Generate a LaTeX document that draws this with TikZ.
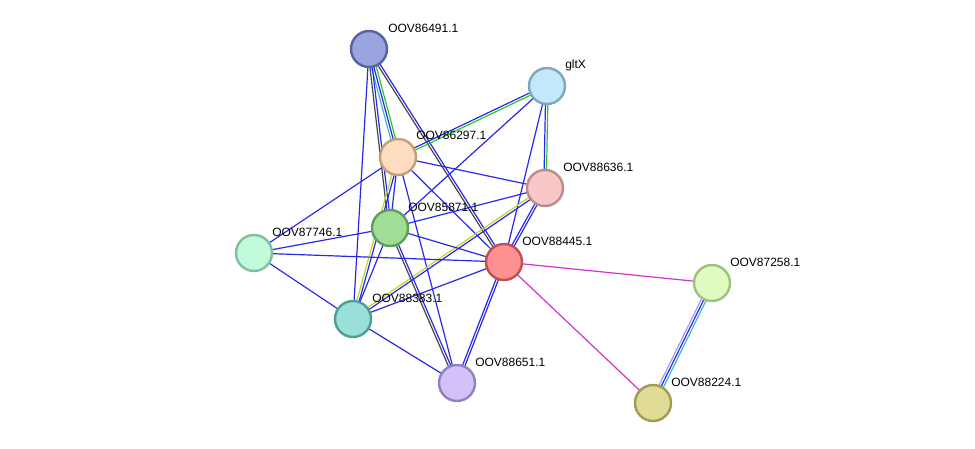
\documentclass[tikz,border=0pt]{standalone}
\usepackage{fontspec}
\setmainfont{Liberation Sans}
\usetikzlibrary{calc,backgrounds}
\definecolor{cooc}{RGB}{40,40,235}
\definecolor{coex}{RGB}{70,70,70}
\definecolor{dbase}{RGB}{60,180,220}
\definecolor{neigh}{RGB}{40,200,40}
\definecolor{tmine}{RGB}{190,215,40}
\definecolor{exper}{RGB}{210,50,210}
\definecolor{homol}{RGB}{165,155,240}
\tikzset{
  prot/.style={circle, line width=1.8pt, minimum size=27pt, inner sep=0pt},
  lbl/.style={anchor=west, inner sep=0pt, font=\fontsize{9}{10}\selectfont},
  edge/.style={line width=0.9pt}
}
% one line of an edge, shifted sideways by #4
\newcommand{\lnk}[4]{\draw[edge,#1] ($(#2.center)!#4!90:(#3.center)$) -- ($(#3.center)!#4!-90:(#2.center)$);}

\begin{document}
\begin{tikzpicture}[x=0.75pt, y=-0.75pt]
\useasboundingbox (0,0) rectangle (975,449);
% ---- proteins
\node[prot, fill={rgb,255:red,154;green,165;blue,224}, draw={rgb,255:red,88;green,98;blue,158}] (n86491) at (369,49) {};
\node[prot, fill={rgb,255:red,194;green,232;blue,250}, draw={rgb,255:red,128;green,166;blue,190}] (gltx) at (547,86) {};
\node[prot, fill={rgb,255:red,253;green,220;blue,192}, draw={rgb,255:red,192;green,160;blue,128}] (n86297) at (398,157) {};
\node[prot, fill={rgb,255:red,248;green,200;blue,200}, draw={rgb,255:red,190;green,140;blue,140}] (n88636) at (545,188) {};
\node[prot, fill={rgb,255:red,160;green,222;blue,152}, draw={rgb,255:red,94;green,158;blue,88}] (n85871) at (390,228) {};
\node[prot, fill={rgb,255:red,194;green,250;blue,220}, draw={rgb,255:red,128;green,192;blue,160}] (n87746) at (254,253) {};
\node[prot, fill={rgb,255:red,255;green,144;blue,144}, draw={rgb,255:red,192;green,80;blue,80}] (n88445) at (504,262) {};
\node[prot, fill={rgb,255:red,224;green,252;blue,192}, draw={rgb,255:red,160;green,192;blue,128}] (n87258) at (712,283) {};
\node[prot, fill={rgb,255:red,152;green,224;blue,216}, draw={rgb,255:red,80;green,156;blue,150}] (n88383) at (353,319) {};
\node[prot, fill={rgb,255:red,210;green,194;blue,248}, draw={rgb,255:red,146;green,128;blue,192}] (n88651) at (457,383) {};
\node[prot, fill={rgb,255:red,224;green,220;blue,152}, draw={rgb,255:red,160;green,156;blue,80}] (n88224) at (653,403) {};
% ---- labels
\node[lbl] (l86491) at ([shift={(19,-21)}]n86491.center) {OOV86491.1};
\node[lbl] (lgltx) at ([shift={(18,-21)}]gltx.center) {gltX};
\node[lbl] (l86297) at ([shift={(18,-22)}]n86297.center) {OOV86297.1};
\node[lbl] (l88636) at ([shift={(18,-21)}]n88636.center) {OOV88636.1};
\node[lbl] (l85871) at ([shift={(18,-21)}]n85871.center) {OOV85871.1};
\node[lbl] (l87746) at ([shift={(18,-21)}]n87746.center) {OOV87746.1};
\node[lbl] (l88445) at ([shift={(18,-21)}]n88445.center) {OOV88445.1};
\node[lbl] (l87258) at ([shift={(18,-21)}]n87258.center) {OOV87258.1};
\node[lbl] (l88383) at ([shift={(19,-21)}]n88383.center) {OOV88383.1};
\node[lbl] (l88651) at ([shift={(18,-21)}]n88651.center) {OOV88651.1};
\node[lbl] (l88224) at ([shift={(18,-21)}]n88224.center) {OOV88224.1};
% ---- edges, behind the proteins
\begin{pgfonlayer}{background}
\lnk{dbase}{n86491}{n86297}{-1.8pt}
\lnk{cooc}{n86491}{n86297}{0pt}
\lnk{neigh}{n86491}{n86297}{1.8pt}
\lnk{coex}{n86491}{n85871}{-0.9pt}
\lnk{cooc}{n86491}{n85871}{0.9pt}
\lnk{cooc}{n86491}{n88383}{0pt}
\lnk{coex}{n86491}{n88445}{-0.9pt}
\lnk{cooc}{n86491}{n88445}{0.9pt}
\lnk{cooc}{gltx}{n86297}{-0.9pt}
\lnk{neigh}{gltx}{n86297}{0.9pt}
\lnk{cooc}{gltx}{n88636}{-0.9pt}
\lnk{neigh}{gltx}{n88636}{0.9pt}
\lnk{cooc}{gltx}{n85871}{0pt}
\lnk{cooc}{gltx}{n88445}{0pt}
\lnk{cooc}{n86297}{n88636}{0pt}
\lnk{cooc}{n86297}{n88445}{0pt}
\lnk{cooc}{n86297}{n87746}{0pt}
\lnk{cooc}{n86297}{n88651}{0pt}
\lnk{cooc}{n86297}{n85871}{0pt}
\lnk{tmine}{n86297}{n88383}{-0.9pt}
\lnk{cooc}{n86297}{n88383}{0.9pt}
\lnk{cooc}{n88636}{n85871}{0pt}
\lnk{cooc}{n88636}{n88445}{-0.9pt}
\lnk{cooc}{n88636}{n88445}{0.9pt}
\lnk{tmine}{n88636}{n88383}{-0.9pt}
\lnk{cooc}{n88636}{n88383}{0.9pt}
\lnk{cooc}{n85871}{n87746}{0pt}
\lnk{cooc}{n85871}{n88445}{0pt}
\lnk{cooc}{n85871}{n88383}{0pt}
\lnk{coex}{n85871}{n88651}{-0.9pt}
\lnk{cooc}{n85871}{n88651}{0.9pt}
\lnk{cooc}{n87746}{n88445}{0pt}
\lnk{cooc}{n87746}{n88383}{0pt}
\lnk{cooc}{n88445}{n88383}{0pt}
\lnk{cooc}{n88445}{n88651}{-0.9pt}
\lnk{cooc}{n88445}{n88651}{0.9pt}
\lnk{exper}{n88445}{n87258}{0pt}
\lnk{exper}{n88445}{n88224}{0pt}
\lnk{cooc}{n88383}{n88651}{0pt}
\lnk{homol}{n87258}{n88224}{-1.8pt}
\lnk{cooc}{n87258}{n88224}{0pt}
\lnk{dbase}{n87258}{n88224}{1.8pt}
\end{pgfonlayer}
\end{tikzpicture}
\end{document}
